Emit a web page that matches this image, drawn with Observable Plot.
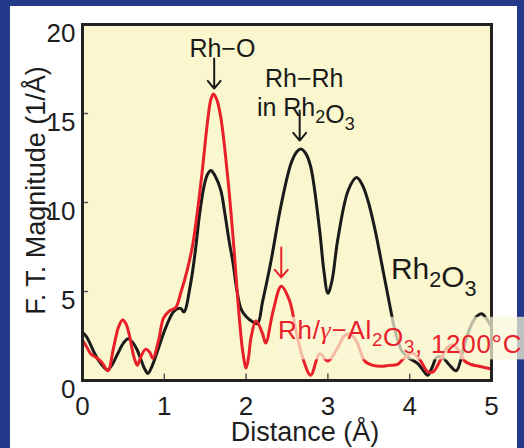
<!DOCTYPE html>
<html><head><meta charset="utf-8">
<script src="https://cdn.jsdelivr.net/npm/d3@7"></script>
<script src="https://cdn.jsdelivr.net/npm/@observablehq/plot@0.6"></script>
<style>
html,body{margin:0;padding:0;background:#24398a;}
#wrap{position:relative;width:524px;height:448px;background:#24398a;overflow:hidden;}
#panel{position:absolute;left:10px;top:6px;width:507px;height:442px;background:#fff;}
#chart{position:absolute;left:0;top:0;}
#chart svg{overflow:visible;}
</style></head><body>
<div id="wrap"><div id="panel"></div><div id="chart"></div></div>
<script>
// Rh2O3 reference (black)
const rh2o3Distance = [0.00,0.05,0.10,0.15,0.20,0.25,0.31,0.37,0.43,0.50,0.56,0.62,0.67,0.72,0.76,0.80,0.85,0.92,1.02,1.12,1.20,1.24,1.32,1.38,1.43,1.49,1.53,1.57,1.62,1.69,1.74,1.79,1.84,1.89,1.94,2.00,2.08,2.14,2.20,2.30,2.43,2.55,2.62,2.67,2.73,2.79,2.90,2.95,3.00,3.05,3.12,3.25,3.35,3.42,3.49,3.57,3.69,3.77,3.82,3.90,3.98,4.10,4.16,4.22,4.28,4.33,4.40,4.48,4.57,4.66,4.75,4.82,4.88,4.95,5.00];
const rh2o3Magnitude = [2.7,2.45,2.0,1.5,1.1,0.8,0.6,0.95,1.5,2.1,2.35,2.1,1.7,1.1,0.65,0.4,0.8,1.7,3.0,3.9,4.05,3.85,5.4,7.3,9.3,11.0,11.6,11.8,11.5,10.7,9.4,7.9,6.6,5.0,4.0,3.6,3.3,3.2,4.4,6.6,9.9,12.2,12.85,13.0,12.75,12.0,8.4,6.2,4.9,5.6,7.9,10.7,11.4,11.0,10.1,8.6,5.8,3.9,2.8,1.7,1.3,0.95,0.6,0.3,0.8,1.3,1.3,0.9,0.55,1.85,3.1,3.6,3.75,3.4,3.0];
// Rh/gamma-Al2O3, 1200 °C (red)
const rhAlDistance = [0.00,0.05,0.10,0.18,0.24,0.31,0.38,0.44,0.49,0.53,0.57,0.63,0.67,0.71,0.77,0.82,0.86,0.93,0.99,1.06,1.14,1.20,1.28,1.35,1.45,1.53,1.57,1.60,1.64,1.69,1.78,1.85,1.91,1.96,2.00,2.03,2.06,2.12,2.20,2.24,2.33,2.43,2.53,2.61,2.69,2.79,2.90,3.00,3.12,3.20,3.27,3.35,3.45,3.55,3.65,3.75,3.85,3.92,4.03,4.12,4.22,4.29,4.38,4.46,4.53,4.60,4.67,4.75,4.85,5.00];
const rhAlMagnitude = [2.25,1.9,1.5,1.25,1.0,0.55,1.85,3.0,3.4,3.2,2.6,1.3,0.85,1.3,1.75,1.6,1.25,2.25,3.5,3.9,4.1,4.9,6.2,7.7,11.2,14.6,15.8,16.1,15.8,14.8,11.2,7.5,3.9,1.6,0.7,1.3,2.4,3.35,2.65,2.1,3.9,5.3,4.5,2.8,1.3,0.3,1.5,1.1,1.85,2.5,2.6,2.2,1.1,0.85,0.8,0.85,0.9,1.2,1.55,1.2,0.5,0.5,1.2,1.85,2.0,1.7,1.1,0.9,0.8,0.65];

const xTicks = [0,1,2,3,4,5];
const yTicks = [0,5,10,15,20];
const xTickLabels = ["0","1","2","3","4","5"];
const yTickLabels = ["0","5","10","15","20"];

// annotations (data coordinates)
const labelText = ["Rh−O","Rh−Rh","in Rh_2O_3","Rh_2O_3","Rh/γ−Al_2O_3, 1200°C"];
const labelX    = [1.71, 2.71, 2.73, 3.77, 2.39];
const labelY    = [18.65, 16.94, 15.31, 6.24, 2.81];
const labelColor= ["#1a1a1a","#1a1a1a","#1a1a1a","#1a1a1a","#e8202a"];
const labelSize = [25, 25, 25, 30, 26];
const labelAnchor = ["middle","middle","middle","start","start"];

const arrowX  = [1.61, 2.655, 2.43];
const arrowY1 = [18.09, 15.17, 7.47];
const arrowY2 = [16.4, 13.48, 5.79];
const arrowColor = ["#1a1a1a","#1a1a1a","#e8202a"];

const black = rh2o3Distance.map((x,i)=>({x, y: rh2o3Magnitude[i]}));
const red = rhAlDistance.map((x,i)=>({x, y: rhAlMagnitude[i]}));
const labels = labelText.map((t,i)=>({t, x: labelX[i], y: labelY[i], c: labelColor[i], s: labelSize[i], a: labelAnchor[i]}));
const arrows = arrowX.map((x,i)=>({x, y1: arrowY1[i], y2: arrowY2[i], c: arrowColor[i]}));
const xt = xTicks.map((v,i)=>({v, t: xTickLabels[i]}));
const yt = yTicks.map((v,i)=>({v, t: yTickLabels[i]}));

const innerX = xTicks.slice(1,-1), innerY = yTicks.slice(1,-1);

const textMarks = labels.map(d => Plot.text([d], {x:"x", y:"y", text:"t", fill: d.c, fontSize: d.s, textAnchor: d.a, lineAnchor:"middle"}));

const plot = Plot.plot({
  width: 524, height: 448,
  marginLeft: 82, marginRight: 33, marginTop: 24, marginBottom: 68,
  x: {domain: [0,5], axis: null},
  y: {domain: [0,20], axis: null},
  style: {background: "transparent", fontFamily: "'Liberation Sans', Arial, Helvetica, sans-serif", overflow: "visible", color: "#1e1e1e"},
  marks: [
    Plot.frame({fill: "#faf7cf"}),
    Plot.ruleX(innerX, {x: d=>d, y1: 0, y2: 0.36, stroke: "#555", strokeWidth: 1.5}),
    Plot.ruleY(innerY, {y: d=>d, x1: 0, x2: 0.075, stroke: "#555", strokeWidth: 1.5}),
    Plot.line(black, {x:"x", y:"y", stroke:"#1a1a1a", strokeWidth:3, curve:"catmull-rom"}),
    Plot.line(red, {x:"x", y:"y", stroke:"#e8202a", strokeWidth:3, curve:"catmull-rom"}),
    Plot.frame({stroke:"#222", strokeWidth:3}),
    Plot.text(xt, {x:"v", text:"t", frameAnchor:"bottom", lineAnchor:"top", textAnchor:"middle", dy:16, fontSize:26, fill:"#1e1e1e"}),
    Plot.text(yt, {y:"v", text:"t", frameAnchor:"left", lineAnchor:"middle", textAnchor:"end", dx:-7, dy:9, fontSize:26, fill:"#1e1e1e"}),
    Plot.text(["F. T. Magnitude (1/Å)"], {frameAnchor:"left", textAnchor:"middle", lineAnchor:"middle", rotate:-90, dx:-46, dy:-12, fontSize:27, fill:"#1e1e1e"}),
    Plot.text(["Distance (Å)"], {frameAnchor:"bottom", textAnchor:"middle", lineAnchor:"middle", dx:18, dy:52, fontSize:27, fill:"#1e1e1e"}),
    Plot.arrow(arrows, {x1:"x", x2:"x", y1:"y1", y2:"y2", stroke: d=>d.c, strokeWidth:2, headLength:12, headAngle:80}),
    ...textMarks
  ]
});
document.getElementById("chart").appendChild(plot);

// subscripts, italic gamma & highlight box
const svg = d3.select(plot);
svg.selectAll("text").each(function(){
  const el = d3.select(this);
  const txt = el.text();
  if (!txt.includes("_")) return;
  const fs = parseFloat(this.getAttribute("font-size") || getComputedStyle(this).fontSize) || 26;
  const parts = txt.split(/_(\d)/);
  el.text(null);
  parts.forEach((p,i)=>{
    if (p === "") return;
    if (i % 2 === 1) {
      el.append("tspan").attr("dy", fs*0.28).attr("font-size", fs*0.72).text(p);
      el.append("tspan").attr("dy", -fs*0.28).text("");
    } else if (p.includes("γ")) {
      const seg = p.split("γ");
      el.append("tspan").text(seg[0]);
      el.append("tspan").attr("font-family", "'Liberation Serif', 'DejaVu Serif', serif").attr("font-style", "italic").text("γ");
      el.append("tspan").text(seg[1]);
    } else el.append("tspan").text(p);
  });
});
svg.selectAll("text").each(function(){
  if (this.textContent.startsWith("Rh/γ")) {
    this.setAttribute("letter-spacing", "0.7");
    const b = this.getBBox();
    const ctm = this.getAttribute("transform");
    const g = this.parentNode;
    d3.select(g).insert("rect", ":first-child")
      .attr("x", b.x - 2).attr("y", b.y + 2).attr("width", b.width + 30).attr("height", b.height - 2)
      .attr("transform", ctm).attr("fill", "#faf7d6").attr("fill-opacity", 0.72);
  }
});
</script>
</body></html>
